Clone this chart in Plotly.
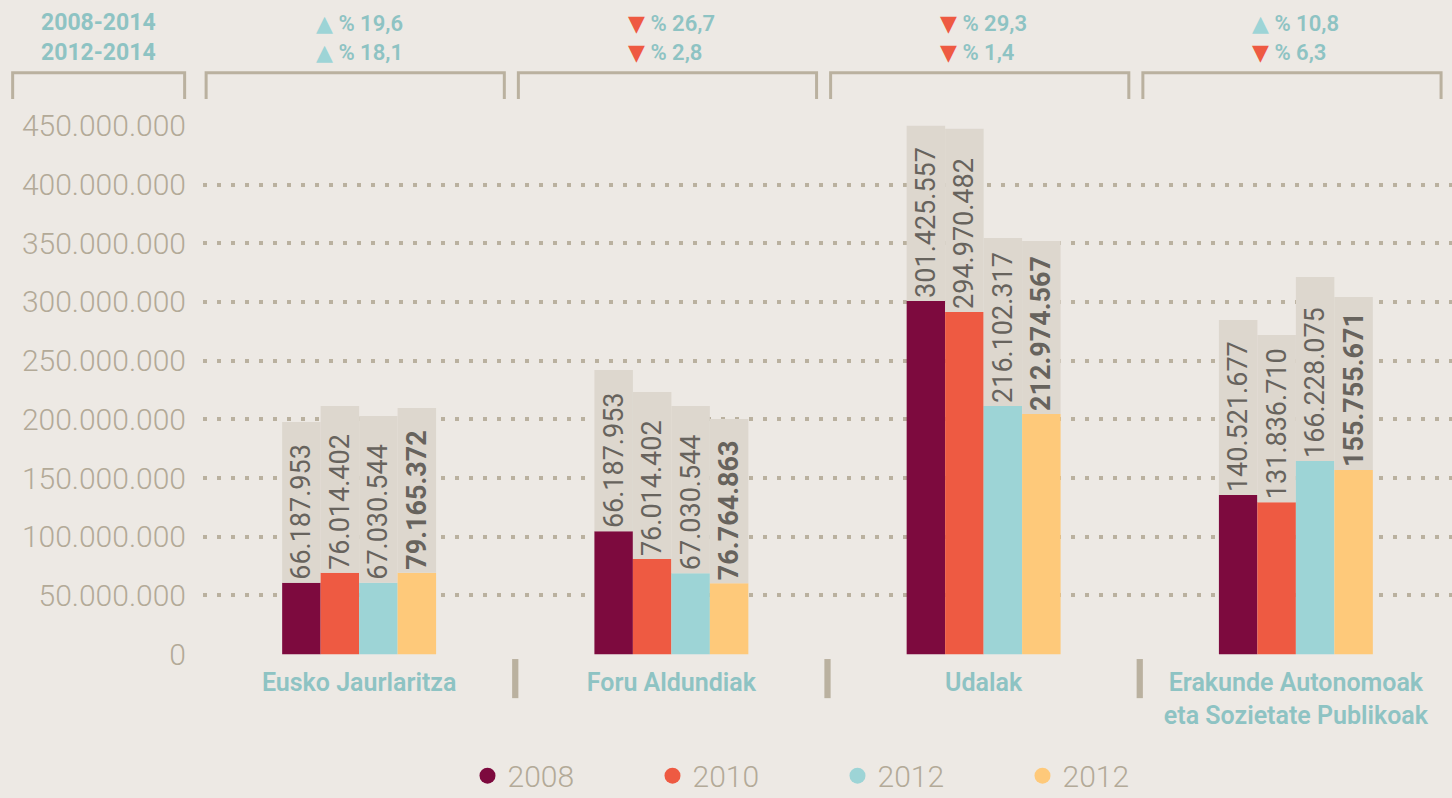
import plotly.graph_objects as go

# ---------------- data ----------------
categories = ["Eusko Jaurlaritza", "Foru Aldundiak", "Udalak",
              "Erakunde Autonomoak<br>eta Sozietate Publikoak"]
series_names = ["2008", "2010", "2012", "2012"]

# bar heights as drawn
bar_2008 = [60_800_000, 104_800_000, 300_900_000, 135_500_000]
bar_2010 = [69_300_000, 81_000_000, 291_500_000, 129_500_000]
bar_2012 = [60_800_000, 69_000_000, 211_400_000, 164_500_000]
bar_2014 = [69_300_000, 60_500_000, 204_500_000, 156_800_000]

# tops of the grey label boxes
box_2008 = [197_700_000, 242_000_000, 450_000_000, 284_700_000]
box_2010 = [211_400_000, 223_300_000, 447_400_000, 271_900_000]
box_2012 = [202_800_000, 211_400_000, 354_500_000, 321_300_000]
box_2014 = [209_600_000, 200_300_000, 352_000_000, 304_300_000]

# value labels as printed
labels_2008 = ["66.187.953", "66.187.953", "301.425.557", "140.521.677"]
labels_2010 = ["76.014.402", "76.014.402", "294.970.482", "131.836.710"]
labels_2012 = ["67.030.544", "67.030.544", "216.102.317", "166.228.075"]
labels_2014 = ["79.165.372", "76.764.863", "212.974.567", "155.755.671"]

# header percentages
period_labels = ["2008-2014", "2012-2014"]
pct_2008_2014 = [19.6, -26.7, -29.3, 10.8]
pct_2012_2014 = [18.1, -2.8, -1.4, -6.3]

# ---------------- style ----------------
BG = "#ede9e4"
BOX = "#ddd7ce"
GRID = "#bab19f"
AXIS_TXT = "#b3aa98"
TEAL_TXT = "#8ec3c3"
TEAL = "#9dd4d6"
RED = "#ee5a42"
LABEL_TXT = "#67635d"
colors = ["#7d0a3e", "#ee5a42", "#9dd4d6", "#fec97a"]
FONT = "Roboto"

bars = [bar_2008, bar_2010, bar_2012, bar_2014]
boxes = [box_2008, box_2010, box_2012, box_2014]
labels = [labels_2008, labels_2010, labels_2012, labels_2014]

fig = go.Figure()
for i in range(4):
    fig.add_trace(go.Bar(
        x=categories, y=bars[i], offsetgroup=str(i), name=series_names[i],
        marker=dict(color=colors[i], line=dict(width=0)), showlegend=False,
        hoverinfo="skip"))
    fig.add_trace(go.Bar(
        x=categories, y=[b - v for b, v in zip(boxes[i], bars[i])], base=bars[i],
        offsetgroup=str(i), marker=dict(color=BOX, line=dict(width=0)),
        text=labels[i], textposition="inside", insidetextanchor="start",
        textangle=-90, constraintext="none",
        insidetextfont=dict(family=FONT, size=27, color=LABEL_TXT,
                            weight=700 if i == 3 else 400),
        showlegend=False, hoverinfo="skip"))

for i in range(4):
    fig.add_trace(go.Scatter(
        x=[None], y=[None], mode="markers", name=series_names[i],
        marker=dict(symbol="circle", size=20, color=colors[i])))

HEADER_Y = 1.165

annotations = [dict(
    xref="paper", yref="paper", x=-0.0836, y=HEADER_Y,
    text="<br>".join(period_labels), showarrow=False, xanchor="center",
    yanchor="middle", align="center",
    font=dict(family=FONT, size=23, color=TEAL_TXT, weight=700))]


def pct_text(v):
    sym = "▲" if v > 0 else "▼"
    c = TEAL if v > 0 else RED
    num = f"{abs(v):.1f}".replace(".", ",")
    return (f'<span style="color:{c};font-family:DejaVu Sans;font-size:22px">{sym}</span>'
            f' % {num}')


for k in range(4):
    annotations.append(dict(
        xref="x", yref="paper", x=k, y=HEADER_Y,
        text=pct_text(pct_2008_2014[k]) + "<br>" + pct_text(pct_2012_2014[k]),
        showarrow=False, xanchor="center", yanchor="middle", align="left",
        font=dict(family=FONT, size=22, color=TEAL_TXT, weight=600)))

shapes = []
bracket_top, bracket_bot = 1.0985, 1.049
shapes.append(dict(type="path", xref="paper", yref="paper",
                   path=f"M -0.1524,{bracket_bot} L -0.1524,{bracket_top} L -0.0147,{bracket_top} L -0.0147,{bracket_bot}",
                   line=dict(color=GRID, width=3)))
for k in range(4):
    shapes.append(dict(type="path", xref="x", yref="paper",
                       path=f"M {k-0.49},{bracket_bot} L {k-0.49},{bracket_top} L {k+0.465},{bracket_top} L {k+0.465},{bracket_bot}",
                       line=dict(color=GRID, width=3)))
for k in range(3):
    shapes.append(dict(type="rect", xref="x", yref="paper",
                       x0=k + 0.49, x1=k + 0.51, y0=-0.0814, y1=-0.0076,
                       fillcolor=GRID, line=dict(width=0)))

fig.update_layout(
    width=1452, height=798,
    margin=dict(l=203, r=0, t=125, b=143, autoexpand=False),
    paper_bgcolor=BG, plot_bgcolor=BG,
    barmode="group", bargap=0.507, bargroupgap=0,
    separators=",.",
    font=dict(family=FONT),
    annotations=annotations, shapes=shapes,
    legend=dict(orientation="h", x=0.508, xanchor="center",
                yref="container", y=0.028, yanchor="middle",
                font=dict(family=FONT, size=30, color=AXIS_TXT, weight=300),
                entrywidth=140, bgcolor="rgba(0,0,0,0)"),
    xaxis=dict(type="category", range=[-0.5, 3.5], showgrid=False,
               zeroline=False, showline=False, ticks="",
               tickfont=dict(family=FONT, size=25, color=TEAL_TXT, weight=600),
               ticklabelstandoff=10),
    yaxis=dict(range=[-700_000, 450_700_000], dtick=50_000_000, tick0=0,
               tickformat=",d", showgrid=True, gridcolor=GRID, gridwidth=4,
               griddash="4px,10px", zeroline=False, showline=False,
               ticks="", ticklabelstandoff=16,
               tickfont=dict(family=FONT, size=30, color=AXIS_TXT, weight=300)),
)

fig.write_html("out.html", config={"displayModeBar": False},
               post_script="document.body.style.margin='0';document.body.style.overflow='hidden';")
